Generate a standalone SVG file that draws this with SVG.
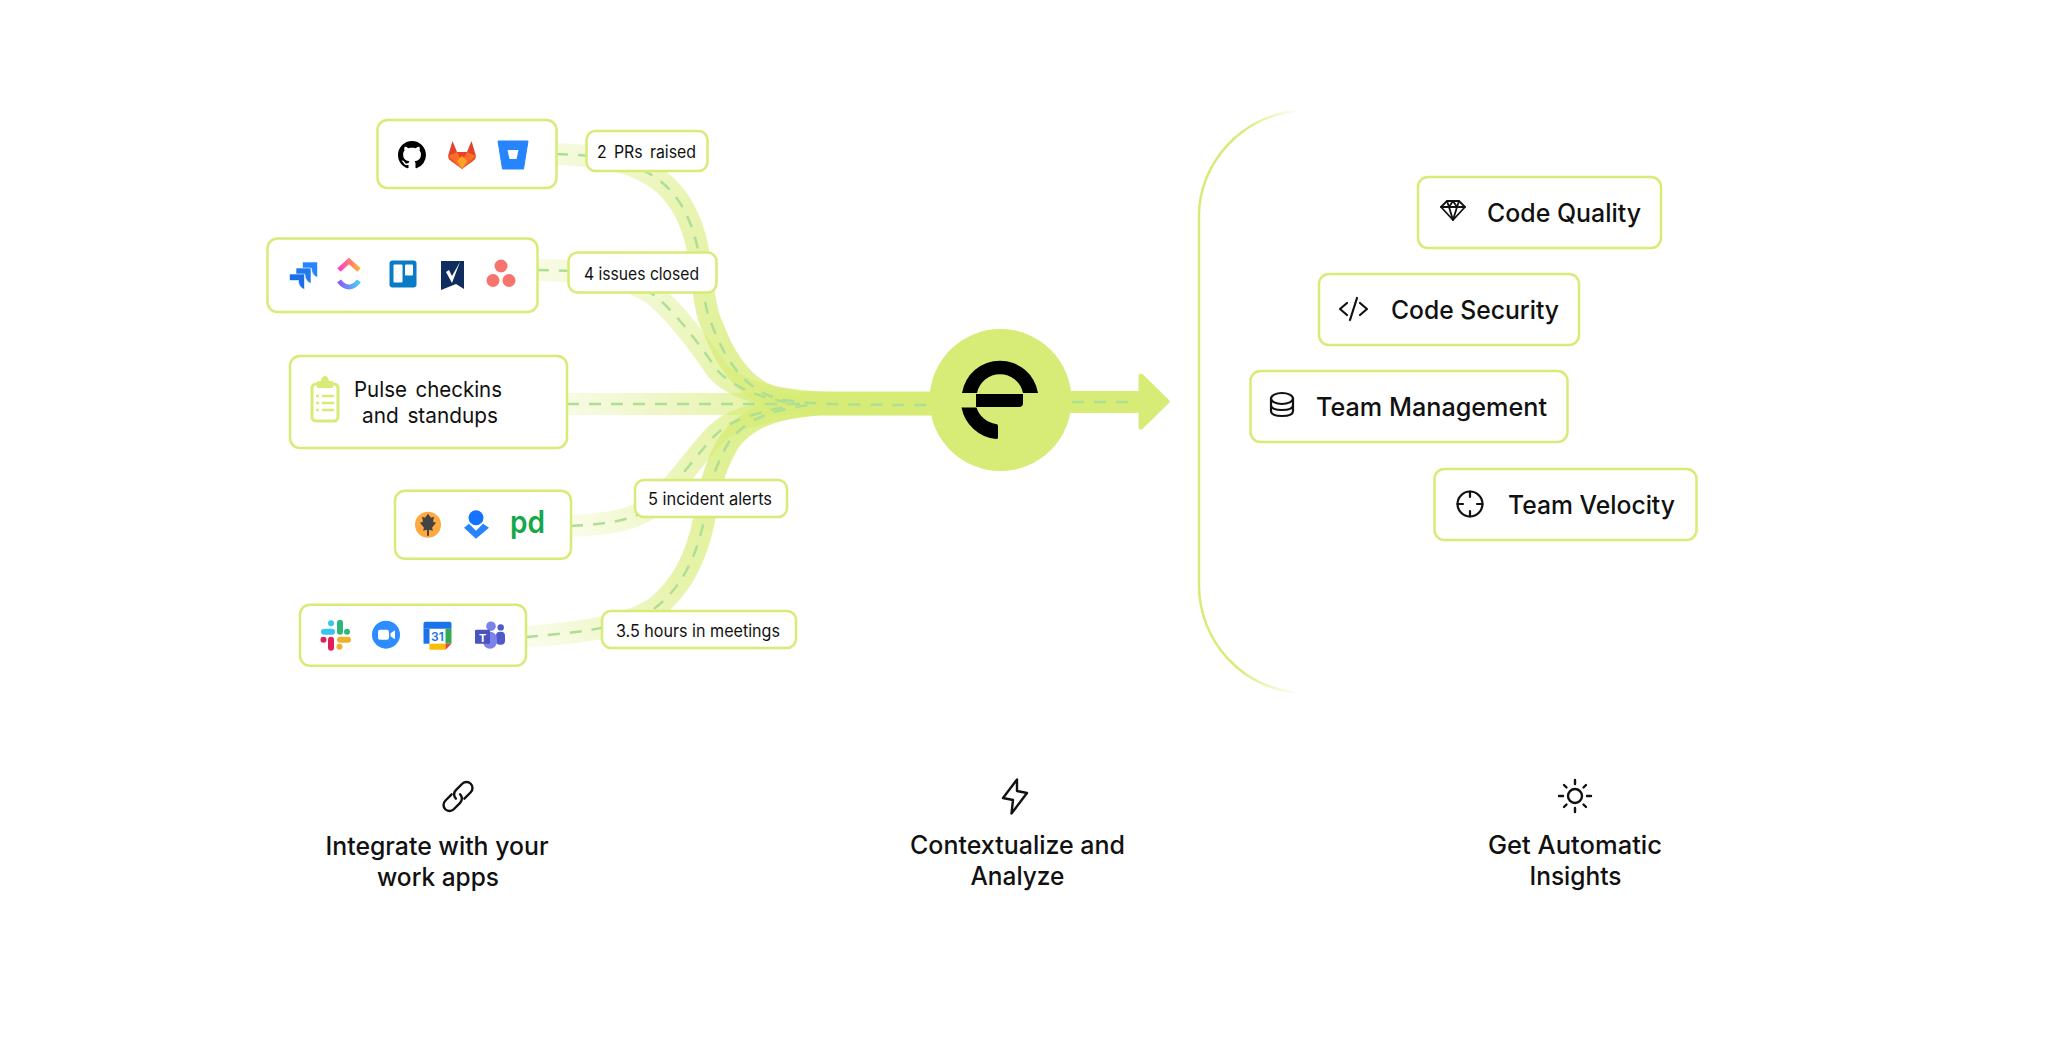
<svg xmlns="http://www.w3.org/2000/svg" width="2048" height="1064" viewBox="0 0 2048 1064">
<style>
text{font-family:Inter,"Liberation Sans",sans-serif;fill:#111}
.box{fill:#fff;stroke:#d7ec76;stroke-width:2.500}
.band{fill:none;stroke-width:22}
.dash{fill:none;stroke:#addf95;stroke-width:2.500;stroke-dasharray:12 10}
.lab{font-size:17px}
.big{font-size:25.500px;font-weight:450}
.mid{font-size:22px}
.ic{fill:none;stroke:#111;stroke-width:2.200;stroke-linecap:round;stroke-linejoin:round}
.bi{fill:none;stroke:#111;stroke-width:2.400;stroke-linecap:round;stroke-linejoin:round}
</style>
<defs>
<linearGradient id="g1" gradientUnits="userSpaceOnUse" x1="556" y1="154" x2="720" y2="350"><stop offset="0" stop-color="#d7ec76" stop-opacity=".25"/><stop offset=".45" stop-color="#d7ec76" stop-opacity=".55"/><stop offset="1" stop-color="#d7ec76" stop-opacity=".75"/></linearGradient>
<linearGradient id="g2" gradientUnits="userSpaceOnUse" x1="537" y1="270" x2="780" y2="400"><stop offset="0" stop-color="#d7ec76" stop-opacity=".2"/><stop offset=".5" stop-color="#d7ec76" stop-opacity=".4"/><stop offset="1" stop-color="#d7ec76" stop-opacity=".75"/></linearGradient>
<linearGradient id="g3" gradientUnits="userSpaceOnUse" x1="567" y1="404" x2="790" y2="404"><stop offset="0" stop-color="#d7ec76" stop-opacity=".2"/><stop offset="1" stop-color="#d7ec76" stop-opacity=".7"/></linearGradient>
<linearGradient id="g4" gradientUnits="userSpaceOnUse" x1="571" y1="526" x2="770" y2="410"><stop offset="0" stop-color="#d7ec76" stop-opacity=".15"/><stop offset=".5" stop-color="#d7ec76" stop-opacity=".5"/><stop offset="1" stop-color="#d7ec76" stop-opacity=".7"/></linearGradient>
<linearGradient id="g5" gradientUnits="userSpaceOnUse" x1="526" y1="637" x2="730" y2="440"><stop offset="0" stop-color="#d7ec76" stop-opacity=".15"/><stop offset=".5" stop-color="#d7ec76" stop-opacity=".6"/><stop offset="1" stop-color="#d7ec76" stop-opacity=".8"/></linearGradient>
<linearGradient id="bt" gradientUnits="userSpaceOnUse" x1="1199" y1="200" x2="1300" y2="110"><stop offset="0" stop-color="#d7ec76"/><stop offset=".6" stop-color="#d7ec76"/><stop offset="1" stop-color="#d7ec76" stop-opacity="0"/></linearGradient>
<linearGradient id="bb" gradientUnits="userSpaceOnUse" x1="1199" y1="590" x2="1300" y2="693"><stop offset="0" stop-color="#d7ec76"/><stop offset=".6" stop-color="#d7ec76"/><stop offset="1" stop-color="#d7ec76" stop-opacity="0"/></linearGradient>
<linearGradient id="cu1" x1="0" x2="1" y1="0" y2="0"><stop offset="0" stop-color="#ff3dc8"/><stop offset="1" stop-color="#ffb02e"/></linearGradient>
<linearGradient id="cu2" x1="0" x2="1" y1="0" y2="0"><stop offset="0" stop-color="#8a5cf6"/><stop offset="1" stop-color="#49ccf9"/></linearGradient>
<path id="jp" d="M0 0H15V15.500C11 14 9 10.500 9 6.500H0Z"/>
</defs>

<g id="connectors">
<path class="band" stroke="url(#g1)" d="M556 154C600 155 630 162 650 174C678 190 692 220 698 250C703 280 704 310 712 325C722 352 740 385 770 396C790 403 815 403 830 403"/>
<path class="band" stroke="url(#g2)" d="M537 270C580 270 630 275 658 298C680 318 700 345 717 370C730 385 760 400 830 403"/>
<path class="band" stroke="url(#g3)" d="M567 404L830 404"/>
<path class="band" stroke="url(#g4)" d="M571 526C610 524 640 520 660 500C680 478 695 458 708 443C725 422 745 412 830 403"/>
<path class="band" stroke="url(#g5)" d="M526 637C570 633 620 630 655 608C685 585 698 550 704 520C708 490 715 465 729 442C745 420 770 407 830 403"/>
<path d="M805 403.500H935" fill="none" stroke="#d7ec76" stroke-width="24"/>
<path class="dash" d="M556 154C600 155 630 162 650 174C678 190 692 220 698 250C703 280 704 310 712 325C722 352 740 385 770 396C790 403 815 405 930 405"/>
<path class="dash" d="M537 270C580 270 630 275 658 298C680 318 700 345 717 370C730 385 760 400 800 404"/>
<path class="dash" d="M567 404L800 404"/>
<path class="dash" d="M571 526C610 524 640 520 660 500C680 478 695 458 708 443C725 422 745 415 790 406"/>
<path class="dash" d="M526 637C570 633 620 630 655 608C685 585 698 550 704 520C708 490 715 465 729 442C745 420 770 410 810 405"/>
<path d="M1065 402H1145" fill="none" stroke="#d7ec76" stroke-width="22"/>
<path d="M1141 376L1167 401.500L1141 427Z" fill="#d7ec76" stroke="#d7ec76" stroke-width="5" stroke-linejoin="round"/>
<path class="dash" d="M1072 402H1135"/>
</g>

<g id="hub">
<circle cx="1000.500" cy="400" r="71" fill="#d7ec76"/>
<path d="M962 393A38.500 38.500 0 0 1 1038 393H1023A23.500 23.500 0 0 0 977 393Z" fill="#000"/>
<path d="M976 394H1023V403Q1023 407 1019 407H976Z" fill="#000"/>
<path d="M961.500 407.500H976.500A24 24 0 0 0 996 424Q998 424 998 426V437.500Q998 439 996 439A39 39 0 0 1 961.500 407.500Z" fill="#000"/>
</g>

<g id="node-code">
<rect class="box" x="377.500" y="120" width="179" height="68" rx="10"/>
<path transform="translate(398,141) scale(1.75)" fill="#000" d="M8 0C3.580 0 0 3.580 0 8c0 3.540 2.290 6.530 5.470 7.590.4.070.55-.17.55-.38 0-.19-.01-.82-.01-1.490-2.010.37-2.530-.49-2.690-.94-.09-.23-.48-.94-.82-1.130-.28-.15-.68-.52-.01-.53.63-.01 1.080.58 1.230.82.72 1.210 1.870.87 2.330.66.07-.52.28-.87.51-1.070-1.780-.2-3.640-.89-3.640-3.950 0-.87.31-1.590.82-2.150-.08-.2-.36-1.020.08-2.120 0 0 .67-.21 2.200.82.64-.18 1.320-.27 2-.27.68 0 1.360.09 2 .27 1.530-1.040 2.200-.82 2.200-.82.44 1.100.16 1.920.08 2.120.51.56.82 1.270.82 2.150 0 3.070-1.870 3.750-3.650 3.950.29.25.54.73.54 1.480 0 1.070-.01 1.930-.01 2.200 0 .21.15.46.55.38A8.013 8.013 0 0 0 16 8c0-4.420-3.580-8-8-8z"/>
<g transform="translate(462,155)">
<path d="M-14 1L-9.500 -14L-5 -3H5L9.500 -14L14 1Q14 4 11 6L0 14L-11 6Q-14 4-14 1Z" fill="#e24329"/>
<path d="M-14 1L-5 -3L0 6L5 -3L14 1L0 14Z" fill="#fc6d26"/>
<path d="M-5 6L0 1L5 6L0 14Z" fill="#fca326"/>
</g>
<g transform="translate(513,155)">
<path d="M-15 -14H15L10.500 14H-10.500Z" fill="#2684ff" stroke="#2684ff" stroke-width="1" stroke-linejoin="round"/>
<path d="M-5.500 -5H5.500L3.500 4H-3.500Z" fill="#fff"/>
</g>
</g>

<g id="node-issues">
<rect class="box" x="267.500" y="238.500" width="270" height="73.500" rx="10"/>
<g stroke="#fff" stroke-width=".6"><use href="#jp" x="302.500" y="262" fill="#2684ff"/><use href="#jp" x="296" y="268" fill="#1f7aef"/><use href="#jp" x="289.500" y="274" fill="#1a6fe8"/></g>
<path d="M339 270L349 261L359 270" fill="none" stroke="url(#cu1)" stroke-width="5"/>
<path d="M339 281Q349 293 359 281" fill="none" stroke="url(#cu2)" stroke-width="5"/>
<rect x="389.500" y="260.500" width="27" height="27" rx="3" fill="#0a7cc7"/>
<rect x="393.500" y="264.500" width="9" height="18" rx="1" fill="#fff"/>
<rect x="405" y="264.500" width="8" height="11" rx="1" fill="#fff"/>
<path d="M441 261H464V289L456 284L441 290Z" fill="#0f2d5e"/>
<path d="M446 272L449 270L452 276L460 262L452 283Z" fill="#fff"/>
<circle cx="501" cy="266" r="6.500" fill="#f7746d"/><circle cx="493" cy="280.500" r="6.500" fill="#f7746d"/><circle cx="509" cy="280.500" r="6.500" fill="#f7746d"/>
</g>

<g id="node-pulse">
<rect class="box" x="290" y="356" width="277" height="92" rx="10"/>
<rect x="312" y="384" width="26" height="37" rx="4" fill="none" stroke="#d7ec76" stroke-width="3"/>
<path d="M317 388V382Q317 381 319 381H321Q322 376 325 376Q328 376 329 381H331Q333 381 333 382V388Z" fill="#d7ec76"/>
<path d="M316 396H319M322 396H334M316 403H319M322 403H334M316 410H319M322 410H334" fill="none" stroke="#d7ec76" stroke-width="2.500"/>
<text class="mid" x="354" y="397" word-spacing="3" textLength="148" lengthAdjust="spacingAndGlyphs">Pulse checkins</text>
<text class="mid" x="362" y="423" word-spacing="3" textLength="136" lengthAdjust="spacingAndGlyphs">and standups</text>
</g>

<g id="node-alerts" transform="translate(0,.7)">
<rect class="box" x="395" y="490" width="176" height="68" rx="10"/>
<circle cx="428" cy="524" r="13" fill="#ffa940"/>
<path d="M428 513L431 517L434 516L433 521L436 522L432 527L433 530L429 529V535H427V529L423 530L424 527L420 522L423 521L422 516L425 517Z" fill="#444"/>
<circle cx="476" cy="517" r="7.500" fill="#1473ff"/>
<path d="M464 527L469 523L476 530L483 523L489 527L476 538Z" fill="#2684ff"/>
<text x="510" y="532" textLength="35" lengthAdjust="spacingAndGlyphs" font-size="31" font-weight="600" style="fill:#14a84a">pd</text>
</g>

<g id="node-meetings" transform="translate(0,.7)">
<rect class="box" x="300" y="604" width="226" height="61" rx="10"/>
<g>
<rect x="321" y="628" width="14" height="6" rx="3" fill="#36c5f0"/><circle cx="331" cy="622.500" r="3" fill="#36c5f0"/>
<rect x="337" y="619" width="6" height="15" rx="3" fill="#2eb67d"/><circle cx="347" cy="631" r="3" fill="#2eb67d"/>
<rect x="337" y="636" width="14" height="6" rx="3" fill="#ecb22e"/><circle cx="339.500" cy="646" r="3" fill="#ecb22e"/>
<rect x="328" y="636" width="6" height="14" rx="3" fill="#e01e5a"/><circle cx="323.500" cy="639" r="3" fill="#e01e5a"/>
</g>
<circle cx="386" cy="634" r="14" fill="#2d8cff"/>
<rect x="378" y="629" width="11" height="10" rx="2" fill="#fff"/><path d="M390.500 632.500L395 629.500V638.500L390.500 635.500Z" fill="#fff"/>
<rect x="423.500" y="621" width="28" height="28" rx="2" fill="#fff"/>
<path d="M423.500 623Q423.500 621 425.500 621H449.500Q451.500 621 451.500 623V628H423.500Z" fill="#1a73e8"/>
<rect x="423.500" y="628" width="6" height="15" fill="#1a73e8"/>
<rect x="445.500" y="628" width="6" height="15" fill="#34a853"/>
<rect x="429.500" y="643" width="16" height="6" fill="#fbbc04"/>
<path d="M445.500 649V643H451.500Z" fill="#ea4335"/>
<text x="431" y="640" font-size="12" font-weight="600" style="fill:#1a73e8">31</text>
<circle cx="500.700" cy="626.700" r="3.200" fill="#5059c9"/>
<rect x="496" y="631" width="9" height="13" rx="4" fill="#5059c9"/>
<circle cx="491" cy="625.500" r="4.800" fill="#7b83eb"/>
<rect x="483" y="631" width="14" height="17" rx="7" fill="#7b83eb"/>
<rect x="475" y="629" width="15" height="14" rx="1" fill="#4b53bc"/>
<text x="479" y="641" font-size="11" font-weight="700" style="fill:#fff">T</text>
</g>

<g id="label-prs"><rect class="box" x="586.500" y="131" width="121" height="40" rx="9"/><text class="lab" x="597" y="158" word-spacing="3" textLength="99" lengthAdjust="spacingAndGlyphs">2 PRs raised</text></g>
<g id="label-issues"><rect class="box" x="568.500" y="252.500" width="148" height="40" rx="9"/><text class="lab" x="584" y="280" textLength="115" lengthAdjust="spacingAndGlyphs">4 issues closed</text></g>
<g id="label-alerts"><rect class="box" x="635" y="480" width="152" height="37" rx="9"/><text class="lab" x="648" y="505" textLength="124" lengthAdjust="spacingAndGlyphs">5 incident alerts</text></g>
<g id="label-meetings"><rect class="box" x="602" y="611" width="194" height="37" rx="9"/><text class="lab" x="616" y="637" textLength="164" lengthAdjust="spacingAndGlyphs">3.5 hours in meetings</text></g>

<g id="bracket" fill="none" stroke-width="2.500">
<path d="M1300 110.500C1240 115 1199 165 1199 215V400" stroke="url(#bt)"/>
<path d="M1199 400V585C1199 640 1240 688 1300 693" stroke="url(#bb)"/>
</g>

<g id="insight-quality">
<rect class="box" x="1421" y="177" width="243" height="71" rx="10" transform="translate(-3,0)"/>
<g class="ic" transform="translate(1453,210)" style="stroke-width:1.800"><path d="M-12 -3L-6 -9H6L12 -3L0 10Z"/><path d="M-12 -3H12M-6 -9L-4 -3L0 10L4 -3L6 -9M-4 -3L0 -9L4 -3"/></g>
<text class="big" x="1487" y="222" textLength="154" lengthAdjust="spacingAndGlyphs">Code Quality</text>
</g>
<g id="insight-security">
<rect class="box" x="1319" y="274" width="260" height="71" rx="10"/>
<path class="ic" d="M1347 303L1340 309L1347 315M1360 303L1367 309L1360 315M1357 298L1350 320"/>
<text class="big" x="1391" y="319" textLength="168" lengthAdjust="spacingAndGlyphs">Code Security</text>
</g>
<g id="insight-team">
<rect class="box" x="1250.500" y="371" width="317" height="71" rx="10"/>
<g class="ic"><ellipse cx="1282" cy="398.500" rx="11" ry="5.500"/><path d="M1271 398.500V411Q1271 416 1282 416Q1293 416 1293 411V398.500M1271 405Q1271 410 1282 410Q1293 410 1293 405"/></g>
<text class="big" x="1316" y="416" textLength="231" lengthAdjust="spacingAndGlyphs">Team Management</text>
</g>
<g id="insight-velocity">
<rect class="box" x="1434.500" y="469" width="262" height="71" rx="10"/>
<g class="ic"><circle cx="1470" cy="504" r="12.500"/><path d="M1470 491.500V497M1470 511V516.500M1457.500 504H1463M1477 504H1482.500"/></g>
<text class="big" x="1508" y="513.500" textLength="167" lengthAdjust="spacingAndGlyphs">Team Velocity</text>
</g>

<g id="step-integrate">
<g class="bi" transform="translate(458,796.500) rotate(-45)"><path d="M-3 -6H-12A6 6 0 0 0 -12 6H-3A6 6 0 0 0 3 0"/><path d="M3 6H12A6 6 0 0 0 12 -6H3A6 6 0 0 0 -3 0"/></g>
<text class="big" x="325.500" y="855" textLength="223" lengthAdjust="spacingAndGlyphs">Integrate with your</text>
<text class="big" x="377" y="886" textLength="122" lengthAdjust="spacingAndGlyphs">work apps</text>
</g>
<g id="step-analyze">
<path class="bi" d="M1017 779.500L1003 798L1013 800L1011.500 813.500L1027 793L1017 791Z"/>
<text class="big" x="910" y="854" textLength="215" lengthAdjust="spacingAndGlyphs">Contextualize and</text>
<text class="big" x="970.500" y="885" textLength="94" lengthAdjust="spacingAndGlyphs">Analyze</text>
</g>
<g id="step-insights">
<g class="bi" transform="translate(1575,796)"><circle r="7"/><path d="M0 -16V-12M0 12V16M-16 0H-12M12 0H16M-11 -11L-8.500 -8.500M11 -11L8.500 -8.500M-11 11L-8.500 8.500M11 11L8.500 8.500"/></g>
<text class="big" x="1488" y="854" textLength="174" lengthAdjust="spacingAndGlyphs">Get Automatic</text>
<text class="big" x="1529.500" y="885" textLength="92" lengthAdjust="spacingAndGlyphs">Insights</text>
</g>
</svg>
